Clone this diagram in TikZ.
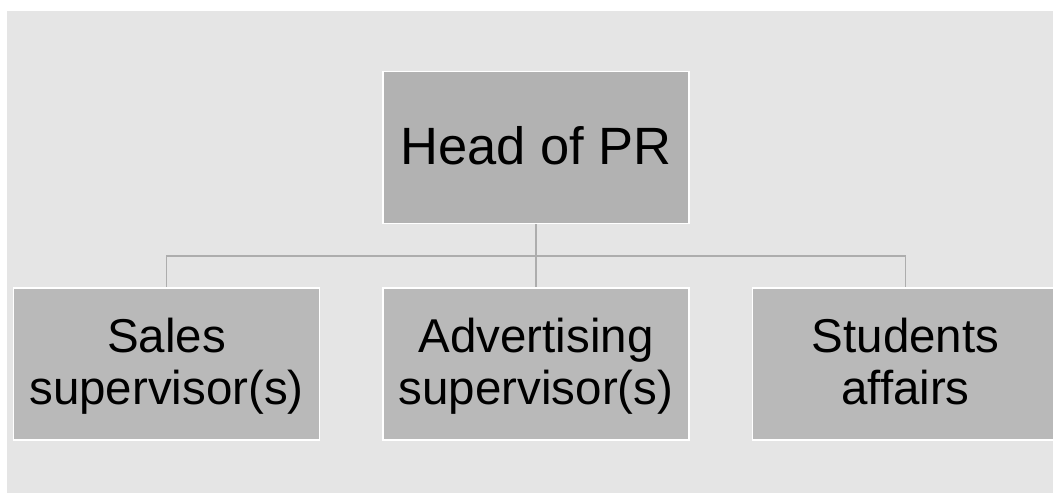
\documentclass[tikz,border=0pt]{standalone}
\usepackage{fontspec}
\usetikzlibrary{backgrounds}
\setmainfont{Liberation Sans}
\definecolor{panel}{HTML}{E5E5E5}
\definecolor{headfill}{HTML}{B2B2B2}
\definecolor{unitfill}{HTML}{B9B9B9}
\definecolor{wire}{HTML}{ADADAD}
% fixed line struts so every box sets its text at the same baselines
\newcommand\headstrut{\rule[-6pt]{0pt}{46pt}}
\newcommand\unitstrut{\rule[-12pt]{0pt}{52pt}}
\tikzset{
  orgbox/.style={draw=white, line width=1.5pt, minimum width=306pt,
    minimum height=152pt, inner sep=0pt, align=center, text=black},
  headbox/.style={orgbox, fill=headfill, font=\fontsize{52.5}{60}\selectfont},
  unitbox/.style={orgbox, fill=unitfill, font=\fontsize{47.5}{52}\selectfont},
  link/.style={draw=wire, line width=1.6pt}
}
\begin{document}
\begin{tikzpicture}[x=1pt, y=-1pt]
  \useasboundingbox (0,0) rectangle (1053,493);
  \clip (0,0) rectangle (1053,493);

  % boxes
  \node[headbox] (head) at (536,147.5) {\headstrut Head of PR};
  \node[unitbox] (sales) at (166.5,364) {\unitstrut Sales\\supervisor(s)\unitstrut};
  \node[unitbox] (adv) at (536,364) {\unitstrut Advertising\\supervisor(s)\unitstrut};
  \node[unitbox] (stud) at (905.5,364) {\unitstrut Students\\affairs\unitstrut};

  \begin{scope}[on background layer]
    % panel behind the chart
    \fill[panel] (7,11) rectangle (1070,500);
    % connectors
    \coordinate (bus) at (536,256);
    \path[link] (head.south) -- (adv.north);
    \path[link] (sales.north) |- (bus) -| (stud.north);
  \end{scope}
\end{tikzpicture}
\end{document}
